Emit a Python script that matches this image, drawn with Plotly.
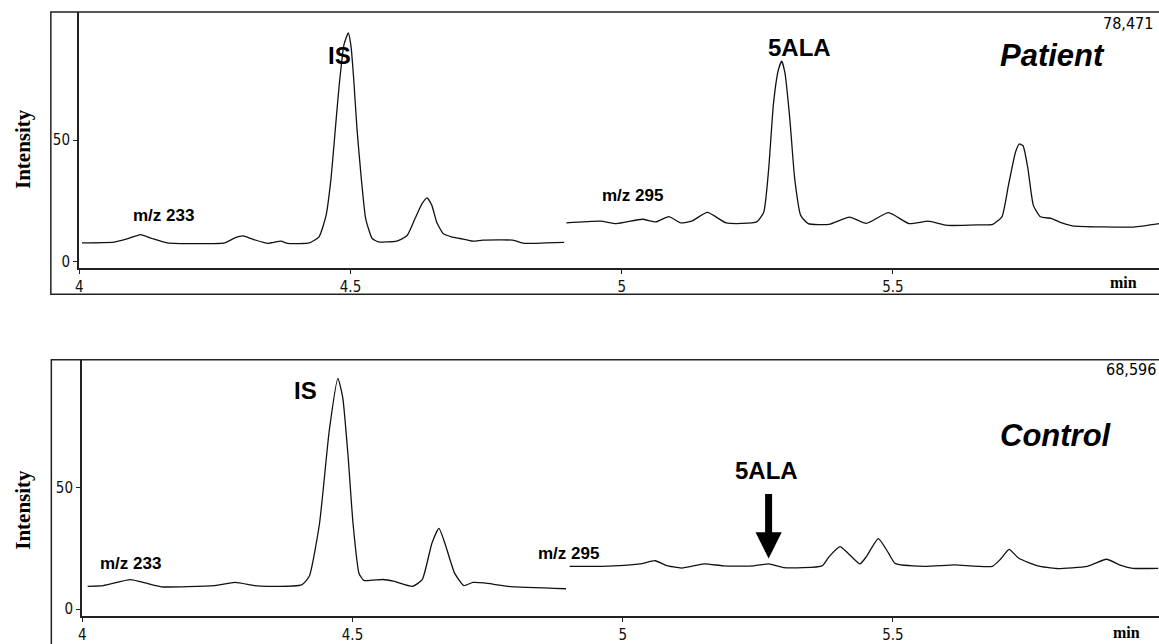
import plotly.graph_objects as go

W, H = 1159, 644

# ---------------- data (retention time in min, relative intensity %) ----------------
top_233_t = [4.005, 4.064, 4.091, 4.113, 4.134, 4.162, 4.268, 4.287, 4.302, 4.320, 4.348, 4.372, 4.384,
             4.424, 4.442, 4.455, 4.464, 4.471, 4.479, 4.488, 4.496, 4.501, 4.506, 4.512, 4.520, 4.528,
             4.540, 4.552, 4.585, 4.604, 4.619, 4.632, 4.641, 4.650, 4.659, 4.671, 4.686, 4.702, 4.726,
             4.744, 4.799, 4.821, 4.860, 4.894]
top_233_v = [7.8, 8.1, 9.6, 11.2, 9.6, 7.8, 7.8, 9.9, 10.7, 9.3, 7.6, 8.5, 7.6,
             7.8, 10.3, 19.1, 34.1, 51.8, 72.2, 89.2, 94.0, 88.5, 74.9, 54.5, 34.1, 17.8,
             9.6, 8.2, 8.5, 10.7, 17.8, 23.9, 26.3, 23.2, 16.3, 11.6, 10.3, 9.6, 8.5,
             8.9, 8.9, 7.6, 7.8, 8.0]

top_295_t = [4.898, 4.961, 4.990, 5.038, 5.063, 5.087, 5.109, 5.129, 5.158, 5.193, 5.249, 5.262, 5.271,
             5.280, 5.289, 5.295, 5.301, 5.310, 5.319, 5.330, 5.344, 5.382, 5.420, 5.451, 5.492, 5.530,
             5.565, 5.600, 5.662, 5.684, 5.701, 5.713, 5.726, 5.733, 5.740, 5.749, 5.759, 5.772, 5.793,
             5.810, 5.831, 5.944, 5.991]
top_295_v = [16.0, 16.7, 15.7, 17.5, 16.4, 18.6, 16.0, 16.7, 20.3, 16.0, 16.4, 20.5, 38.2,
             65.4, 79.0, 82.4, 77.6, 58.6, 34.1, 19.1, 15.7, 15.4, 18.4, 15.8, 20.2, 15.7,
             16.7, 15.0, 15.2, 15.4, 18.5, 31.4, 45.0, 48.4, 47.7, 38.2, 23.2, 18.5, 17.8,
             16.1, 14.8, 14.3, 15.7]

bot_233_t = [4.010, 4.039, 4.089, 4.116, 4.146, 4.245, 4.283, 4.318, 4.342, 4.406, 4.420, 4.439, 4.457,
             4.473, 4.482, 4.492, 4.501, 4.512, 4.521, 4.556, 4.576, 4.611, 4.629, 4.647, 4.660, 4.671,
             4.689, 4.706, 4.723, 4.744, 4.787, 4.895]
bot_233_v = [9.4, 9.7, 12.1, 10.8, 9.2, 9.7, 11.0, 9.7, 9.4, 10.0, 13.5, 35.2, 73.3,
             94.8, 86.9, 62.4, 35.2, 14.8, 11.8, 12.2, 11.5, 9.4, 12.1, 27.1, 33.2, 27.1,
             14.8, 9.7, 11.0, 10.8, 9.4, 8.4]

bot_295_t = [4.902, 4.961, 5.032, 5.060, 5.080, 5.109, 5.151, 5.186, 5.243, 5.270, 5.298, 5.369, 5.382,
             5.402, 5.417, 5.439, 5.451, 5.473, 5.492, 5.504, 5.558, 5.614, 5.684, 5.699, 5.715, 5.733,
             5.768, 5.803, 5.860, 5.895, 5.922, 5.944, 5.991]
bot_295_v = [17.6, 17.6, 18.6, 19.9, 18.0, 16.9, 18.6, 17.8, 17.8, 18.6, 17.1, 17.8, 21.6,
             25.7, 23.0, 18.6, 21.6, 29.0, 23.0, 18.8, 17.6, 18.2, 17.6, 20.5, 24.6, 20.9,
             17.8, 16.7, 17.6, 20.5, 18.0, 16.8, 16.8]

x_tickvals = [4, 4.5, 5, 5.5]
x_ticktext = ["4", "4.5", "5", "5.5"]
y_tickvals = [0, 50]
y_ticktext = ["0", "50"]
max_counts = ["78,471", "68,596"]
sample_names = ["Patient", "Control"]


def PX(x):
    return x / W


def PY(y):
    return 1 - y / H


LINE = "#111111"
FRAME = "#222222"
SANS = "Liberation Sans, Arial, sans-serif"
NARROW = "Liberation Sans Narrow, Arial Narrow, DejaVu Sans Condensed, Liberation Sans, sans-serif"
SERIF = "Liberation Serif, Times New Roman, serif"

fig = go.Figure()
for t, v, xa, ya in [(top_233_t, top_233_v, "x", "y"), (top_295_t, top_295_v, "x", "y"),
                     (bot_233_t, bot_233_v, "x2", "y2"), (bot_295_t, bot_295_v, "x2", "y2")]:
    fig.add_trace(go.Scatter(x=t, y=v, xaxis=xa, yaxis=ya, mode="lines",
                             line=dict(color=LINE, width=1.3, shape="spline", smoothing=0.5),
                             showlegend=False, hoverinfo="skip"))

axis_common = dict(showgrid=False, zeroline=False, showline=True, linecolor=FRAME, linewidth=1.5,
                   ticks="outside", ticklen=4, tickcolor=FRAME,
                   tickfont=dict(family=NARROW, size=15, color="#111"))

fig.update_layout(
    width=W, height=H, margin=dict(l=0, r=0, t=0, b=0),
    paper_bgcolor="white", plot_bgcolor="white",
    xaxis=dict(domain=[PX(75), 1], range=[3.999, 5.9906], tickvals=x_tickvals, ticktext=x_ticktext,
               anchor="y", **axis_common),
    yaxis=dict(domain=[PY(270), PY(12)], range=[-2.65, 102.65], tickvals=y_tickvals, ticktext=y_ticktext,
               anchor="x", **axis_common),
    xaxis2=dict(domain=[PX(78), 1], range=[3.999, 5.9924], tickvals=x_tickvals, ticktext=x_ticktext,
                anchor="y2", **axis_common),
    yaxis2=dict(domain=[PY(620), PY(362)], range=[-2.86, 102.45], tickvals=y_tickvals, ticktext=y_ticktext,
                anchor="x2", **axis_common),
)

# outer frames
fig.add_shape(type="rect", xref="paper", yref="paper", x0=PX(47), x1=1.02, y0=PY(296), y1=PY(12),
              line=dict(color=FRAME, width=1.5))
fig.add_shape(type="rect", xref="paper", yref="paper", x0=PX(47.5), x1=1.02, y0=PY(650), y1=PY(362),
              line=dict(color=FRAME, width=1.5))


def txt(x, y, s, family, size, bold=True, italic=False, xanchor="center"):
    t = s
    if italic:
        t = "<i>" + t + "</i>"
    if bold:
        t = "<b>" + t + "</b>"
    fig.add_annotation(x=PX(x), y=PY(y), xref="paper", yref="paper", text=t, showarrow=False,
                       xanchor=xanchor, yanchor="middle", font=dict(family=family, size=size, color="#000"))


for yc in (150, 513):
    fig.add_annotation(x=PX(19), y=PY(yc), xref="paper", yref="paper", text="<b>Intensity</b>",
                       showarrow=False, textangle=-90, xanchor="center", yanchor="middle",
                       font=dict(family=SERIF, size=21, color="#000"))

# top panel labels
txt(337, 56, "IS", SANS, 24)
txt(798, 48, "5ALA", SANS, 24)
txt(160, 217, "m/z 233", SANS, 17)
txt(631, 197, "m/z 295", SANS, 17)
txt(1052, 56, sample_names[0], SANS, 31, italic=True)
txt(1155, 24, max_counts[0], NARROW, 16, bold=False, xanchor="right")
txt(1123, 284, "min", SERIF, 16)

# bottom panel labels
txt(303, 393, "IS", SANS, 24)
txt(765, 473, "5ALA", SANS, 24)
txt(127, 567, "m/z 233", SANS, 17)
txt(566, 557, "m/z 295", SANS, 17)
txt(1056, 438, sample_names[1], SANS, 31, italic=True)
txt(1158, 372, max_counts[1], NARROW, 16, bold=False, xanchor="right")
txt(1126, 636, "min", SERIF, 16)

# arrow pointing to (absent) 5ALA peak in control
fig.add_annotation(x=5.27, y=20.8, xref="x2", yref="y2", ax=0, ay=-66, axref="pixel", ayref="pixel",
                   showarrow=True, arrowhead=2, arrowwidth=7, arrowsize=0.75, arrowcolor="#000", text="")

fig.write_html("out.html", config={"displayModeBar": False},
               post_script="document.body.style.margin='0px';")
